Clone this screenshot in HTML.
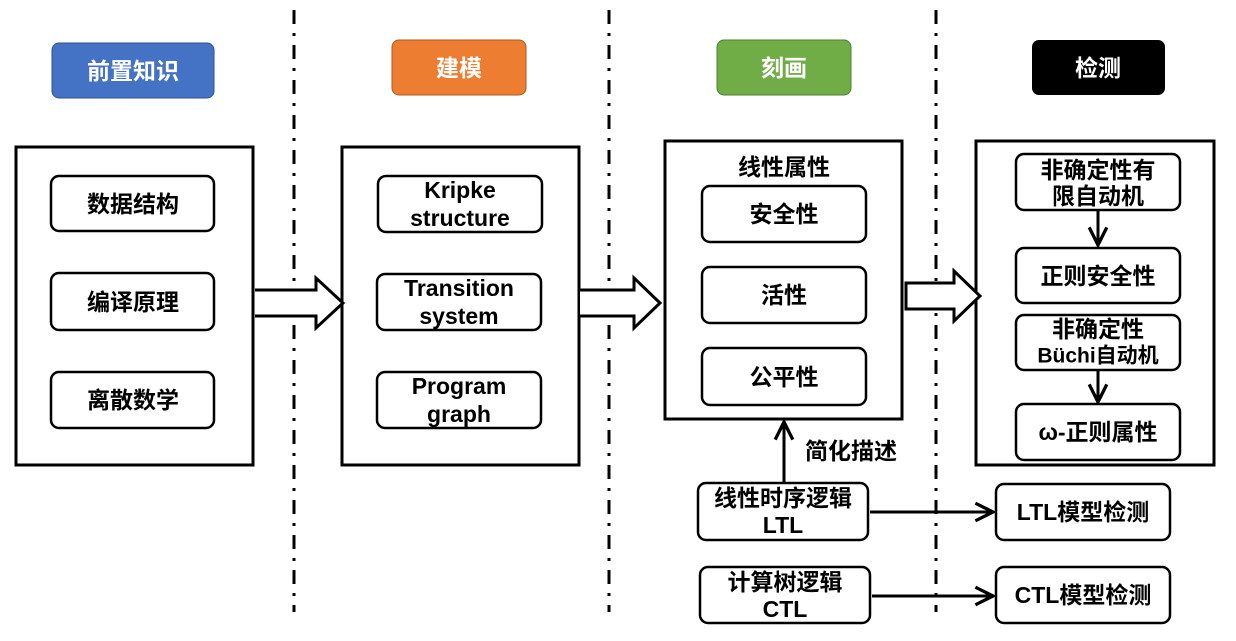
<!DOCTYPE html>
<html><head><meta charset="utf-8"><style>
body{margin:0;background:#fff}
svg text{font-family:"Liberation Sans","Noto Sans CJK SC",sans-serif;font-weight:bold;font-size:23px;text-anchor:middle;dominant-baseline:central;fill:#000}
</style></head><body>
<svg width="1236" height="636" viewBox="0 0 1236 636" xmlns="http://www.w3.org/2000/svg">
<defs>
<marker id="a2" viewBox="0 0 20 20" refX="18" refY="10" markerWidth="22" markerHeight="22" markerUnits="userSpaceOnUse" orient="auto"><path d="M2,2 L18,10 L2,18" fill="none" stroke="#000" stroke-width="3"/></marker></defs>
<g stroke="#000" stroke-width="3" stroke-dasharray="14,9,3,9">
<line x1="294" y1="10" x2="294" y2="612"/><line x1="609" y1="10" x2="609" y2="612"/><line x1="936" y1="10" x2="936" y2="612"/></g>
<rect x="52" y="43" width="162" height="55" rx="7" fill="#4472C4" stroke="#2f528f"/>
<text x="133" y="71" style="fill:#fff">前置知识</text>
<rect x="392" y="40" width="134" height="55" rx="7" fill="#ED7D31" stroke="#ae5a21"/>
<text x="459" y="68" style="fill:#fff">建模</text>
<rect x="717" y="40" width="134" height="55" rx="7" fill="#70AD47" stroke="#507e32"/>
<text x="784" y="68" style="fill:#fff">刻画</text>
<rect x="1032" y="40" width="133" height="55" rx="7" fill="#000"/>
<text x="1098" y="68" style="fill:#fff">检测</text>
<g fill="#fff" stroke="#000" stroke-width="3">
<rect x="16" y="147" width="237" height="318"/>
<rect x="342" y="147" width="237" height="318"/>
<rect x="665" y="141" width="237" height="278"/>
<rect x="976" y="141" width="238" height="324"/>
</g>
<g fill="#fff" stroke="#000" stroke-width="2.5">
<rect x="51" y="176" width="163" height="55" rx="8"/>
<rect x="51" y="273" width="163" height="57" rx="8"/>
<rect x="51" y="372" width="163" height="56" rx="8"/>
<rect x="378" y="176" width="164" height="56" rx="8"/>
<rect x="377" y="274" width="164" height="56" rx="8"/>
<rect x="377" y="372" width="164" height="56" rx="8"/>
<rect x="702" y="186" width="164" height="56" rx="8"/>
<rect x="702" y="267" width="164" height="56" rx="8"/>
<rect x="702" y="348" width="164" height="57" rx="8"/>
<rect x="1016" y="154" width="164" height="56" rx="8"/>
<rect x="1016" y="248" width="164" height="55" rx="8"/>
<rect x="1016" y="315" width="164" height="55" rx="8"/>
<rect x="1016" y="404" width="164" height="56" rx="8"/>
<rect x="698" y="483" width="170" height="57" rx="8"/>
<rect x="700" y="567" width="170" height="56" rx="8"/>
<rect x="996" y="484" width="174" height="56" rx="8"/>
<rect x="996" y="567" width="174" height="56" rx="8"/>
</g>
<g fill="#fff" stroke="#000" stroke-width="3">
<path d="M255,290 H316 V278 L343,303 L316,328 V316 H255"/>
<path d="M580,290 H634 V278 L660,303 L634,328 V316 H580"/>
<path d="M906,283 H954 V271 L980,296 L954,321 V309 H906 Z"/>
</g>
<g stroke="#000" stroke-width="3" fill="none">
<line x1="1098" y1="210" x2="1098" y2="245" marker-end="url(#a2)"/>
<line x1="1098" y1="370" x2="1098" y2="402" marker-end="url(#a2)"/>
<line x1="784" y1="482" x2="784" y2="422" marker-end="url(#a2)"/>
<line x1="870" y1="512" x2="993" y2="512" marker-end="url(#a2)"/>
<line x1="872" y1="596" x2="993" y2="596" marker-end="url(#a2)"/>
</g>
<text x="133" y="204">数据结构</text>
<text x="133" y="302">编译原理</text>
<text x="133" y="400">离散数学</text>
<text x="460" y="190">Kripke</text><text x="460" y="218">structure</text>
<text x="459" y="288">Transition</text><text x="459" y="316">system</text>
<text x="459" y="386">Program</text><text x="459" y="414">graph</text>
<text x="784" y="167">线性属性</text>
<text x="784" y="214">安全性</text>
<text x="784" y="295">活性</text>
<text x="784" y="377">公平性</text>
<text x="851" y="451">简化描述</text>
<text x="1098" y="170">非确定性有</text><text x="1098" y="196">限自动机</text>
<text x="1098" y="276">正则安全性</text>
<text x="1098" y="329">非确定性</text><text x="1098" y="356" style="font-size:21px">Büchi自动机</text>
<text x="1098" y="432">ω-正则属性</text>
<text x="783" y="498">线性时序逻辑</text><text x="783" y="525">LTL</text>
<text x="785" y="582">计算树逻辑</text><text x="785" y="609">CTL</text>
<text x="1083" y="512">LTL模型检测</text>
<text x="1083" y="595">CTL模型检测</text>
</svg>
</body></html>
